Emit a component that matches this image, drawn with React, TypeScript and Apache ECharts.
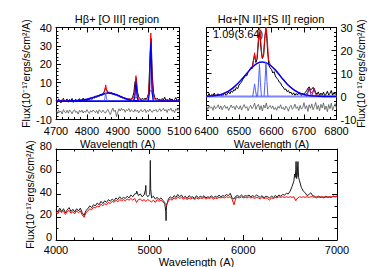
import React, { useEffect, useRef } from "react";
import * as echarts from "echarts";

const FONT = '"Liberation Sans", Arial, Helvetica, sans-serif';

// ---------- Panel 1: Hβ + [O III] ----------
const hbStart = 4700;
const hbStep = 4;
const hbFlux = [
  0.5, -0.8, 1.2, 0.3, -1.0, 0.8, 1.5, -0.4, 0.6, 1.1,
  -0.6, 0.9, 0.2, 1.4, -0.7, 0.4, 1.0, -0.3, 0.7, 1.3,
  -0.5, 0.6, 1.6, 0.1, 0.9, -0.2, 1.2, 0.4, 1.8, 0.9,
  2.2, 1.5, 2.8, 2.0, 3.1, 2.6, 3.8, 3.0, 4.2, 4.8,
  7.0, 6.2, 4.5, 5.0, 4.1, 4.6, 3.7, 4.3, 3.2, 3.9,
  2.7, 3.3, 2.1, 2.6, 1.5, 2.2, 1.0, 1.7, 0.6, 1.4,
  0.8, 1.5, 2.0, 4.5, 10.5, 12.5, 5.0, 2.2, 1.3, 0.8,
  1.6, 0.9, 1.5, 1.1, 2.0, 4.5, 22.0, 34.0, 14.0, 4.5,
  2.0, 0.9, 1.6, 0.5, 1.2, -0.3, 1.4, 0.6, 2.1, 0.2,
  1.0, -0.5, 1.6, 0.4, 1.2, -0.4, 0.8, 1.9, 0.3, 1.0,
  0.5,
];
const hbResid = [
  -5.2, -6.8, -4.9, -6.1, -5.5, -7.0, -4.6, -5.9, -6.4, -5.0,
  -6.6, -4.8, -5.7, -6.9, -5.3, -4.7, -6.2, -5.6, -7.1, -5.0,
  -6.0, -4.9, -6.5, -5.4, -6.1, -4.6, -5.8, -6.7, -5.2, -6.0,
  -4.8, -5.5, -6.3, -5.1, -6.8, -4.7, -5.6, -6.2, -4.9, -5.9,
  -6.6, -5.3, -4.5, -6.1, -7.3, -5.4, -3.8, -5.7, -4.9, -8.4,
  -6.0, -4.2, -5.4, -3.9, -5.0, -4.4, -6.1, -4.6, -5.2, -4.0,
  -5.8, -4.7, -5.3, -6.0, -4.5, -5.6, -4.9, -6.4, -5.1, -4.6,
  -5.9, -5.2, -4.4, -6.2, -5.0, -5.7, -4.3, -5.5, -6.1, -4.8,
  -5.3, -4.5, -6.0, -5.2, -4.1, -5.6, -4.7, -3.9, -5.4, -4.6,
  -6.2, -4.3, -5.0, -3.8, -5.5, -4.9, -6.3, -4.2, -5.1, -3.7,
  -5.6,
];
const hbModel = [
  [4700, 0.2], [4760, 0.2], [4790, 0.6], [4810, 1.3], [4830, 2.4], [4845, 3.4],
  [4855, 4.6], [4858, 6.0], [4861, 8.8], [4864, 6.0], [4867, 4.7], [4880, 4.3],
  [4895, 3.5], [4910, 2.5], [4925, 1.5], [4940, 0.9], [4950, 1.5], [4955, 4.0],
  [4957, 8.5], [4959, 13.8], [4961, 8.5], [4963, 4.0], [4967, 1.2], [4980, 0.6],
  [4993, 0.8], [5000, 3.5], [5003, 12], [5005, 26], [5007, 37], [5009, 26],
  [5011, 12], [5014, 4.5], [5018, 1.5], [5025, 0.5], [5060, 0.2], [5100, 0.2],
];
const hbBase = [[4700, 0], [5100, 0]];
const hbBroad = [
  [4740, 0], [4760, 0.1], [4780, 0.4], [4800, 1.0], [4820, 2.0], [4840, 3.1],
  [4855, 3.9], [4868, 4.4], [4880, 4.2], [4895, 3.4], [4910, 2.4], [4925, 1.4],
  [4940, 0.6], [4960, 0.15], [4980, 0],
];
const hbNarrow = [[4855, 0], [4858, 1.2], [4861, 4.5], [4864, 1.2], [4867, 0]];
const o3aNarrow = [[4951, 0], [4955, 2.0], [4957, 6], [4959, 10.5], [4961, 6], [4963, 2.0], [4967, 0]];
const o3aWing = [[4945, 0], [4952, 0.9], [4959, 2.0], [4966, 0.9], [4973, 0]];
const o3bNarrow = [[4999, 0], [5003, 6], [5005, 21], [5007, 32], [5009, 21], [5011, 6], [5015, 0]];
const o3bWing = [[4993, 0], [4999, 1.6], [5003, 4.5], [5007, 6], [5011, 4.5], [5015, 1.6], [5021, 0]];

// ---------- Panel 2: Hα + [N II] + [S II] ----------
const haStart = 6400;
const haStep = 4;
const haFlux = [
  0.8, 0.2, 1.3, -0.2, 0.9, 0.4, 1.5, -0.1, 0.7, 1.2,
  0.3, 1.0, -0.3, 0.8, 1.4, 0.5, 1.1, 2.0, 1.2, 2.4,
  1.8, 3.0, 2.6, 3.9, 3.4, 5.0, 5.6, 6.4, 7.6, 8.2,
  9.3, 9.0, 10.6, 11.2, 12.5, 12.0, 15.5, 18.0, 14.8, 16.5,
  24.0, 28.0, 20.0, 16.5, 18.0, 26.5, 29.0, 19.5, 13.5, 12.4,
  11.8, 10.2, 10.8, 8.9, 8.0, 7.4, 6.2, 5.9, 4.6, 4.1,
  3.0, 3.3, 2.1, 2.6, 1.5, 1.9, 0.8, 1.6, 0.5, 1.3,
  0.6, 1.7, 0.9, 0.3, 1.4, 0.6, 1.8, 2.5, 3.6, 4.2,
  2.8, 3.2, 4.0, 3.1, 1.7, 1.0, 2.0, 0.4, 1.5, 0.7,
  1.9, 0.2, 1.1, 2.3, 0.6, 1.4, 2.6, 0.5, 1.7, 0.9,
  1.6,
];
const haResid = [
  -4.2, -5.6, -3.9, -5.1, -4.5, -6.0, -4.0, -5.3, -4.7, -3.6,
  -5.4, -4.1, -5.8, -4.6, -3.8, -5.2, -4.4, -6.1, -4.9, -3.7,
  -5.0, -4.3, -5.7, -3.9, -4.8, -5.5, -4.0, -5.9, -4.6, -3.5,
  -5.1, -4.4, -6.2, -4.7, -3.8, -5.3, -4.5, -2.9, -5.6, -4.2,
  -3.4, -5.8, -4.0, -6.3, -3.7, -5.0, -2.8, -5.5, -4.6, -3.9,
  -5.2, -4.1, -5.7, -4.8, -6.0, -4.3, -5.1, -3.6, -5.4, -4.7,
  -5.9, -4.2, -5.0, -6.4, -4.5, -3.8, -5.6, -4.9, -3.3, -5.2,
  -4.4, -6.1, -3.9, -5.5, -4.8, -2.7, -5.3, -4.0, -6.5, -3.6,
  -5.1, -3.2, -5.8, -4.3, -2.6, -5.6, -3.9, -6.2, -3.4, -5.0,
  -2.8, -5.7, -4.1, -6.6, -3.5, -5.3, -2.9, -6.0, -4.4, -3.1,
  -5.2,
];
const haModel = [
  [6400, 0.1], [6440, 0.7], [6470, 2.5], [6500, 6.2], [6520, 9.4], [6535, 11.8],
  [6542, 13.5], [6545, 16], [6548, 19], [6551, 15.5], [6555, 16.5], [6559, 24],
  [6563, 31], [6567, 24], [6571, 17], [6575, 18], [6579, 25], [6583, 31],
  [6587, 25], [6591, 16], [6596, 13.8], [6610, 11.8], [6630, 8.4], [6650, 5.1],
  [6670, 2.8], [6690, 1.3], [6705, 0.8], [6711, 1.8], [6716, 3.8], [6721, 1.8],
  [6724, 1.6], [6727, 2.0], [6731, 3.6], [6736, 1.2], [6745, 0.3], [6800, 0.1],
];
const haBase = [[6400, 0], [6800, 0]];
const haBroad = [
  [6400, 0.1], [6440, 0.7], [6460, 1.7], [6480, 3.5], [6500, 6.2], [6520, 9.4],
  [6540, 12.6], [6556, 14.4], [6572, 15.0], [6590, 14.2], [6610, 11.8], [6630, 8.4],
  [6650, 5.1], [6670, 2.8], [6690, 1.3], [6720, 0.3], [6760, 0.05], [6800, 0],
];
const n2a = [[6542, 0], [6545, 2.5], [6548, 5.5], [6551, 2.5], [6554, 0]];
const haNarrow = [[6557, 0], [6560, 6], [6563, 14], [6566, 6], [6569, 0]];
const n2b = [[6577, 0], [6580, 6.5], [6583, 15], [6586, 6.5], [6589, 0]];
const s2a = [[6708, 0], [6712, 1.5], [6716, 3.6], [6720, 1.5], [6724, 0]];
const s2b = [[6723, 0], [6727, 1.5], [6731, 3.5], [6735, 1.5], [6739, 0]];
const haNote = "1.09(3.64)";

// ---------- Panel 3: full spectrum ----------
const specStart = 4000;
const specStep = 20;
const specFlux = [
  27, 24.5, 28, 25, 27.5, 24, 26.5, 28.5, 25, 27,
  24.5, 27.5, 25.5, 28, 24, 21.5, 26, 27.5, 30, 28.5,
  31, 30, 32.5, 31, 34, 32, 34.5, 33, 35.5, 34,
  36, 34.5, 37, 35.5, 38, 36, 37.5, 36.5, 38.5, 37,
  39.5, 38, 40.5, 41, 39, 40.5, 38, 39.5, 46, 38,
  40, 37, 38.5, 36, 37.5, 35.5, 37, 35, 33, 30,
  36, 38, 36.5, 39, 37.5, 40, 38, 39.5, 37, 38.5,
  36.5, 39, 37.5, 38, 36.5, 39, 37, 38.5, 37.5, 39,
  37, 38, 37.5, 39, 37, 38.5, 37.5, 39.5, 38, 39,
  38.5, 40, 39, 41, 37, 36, 38.5, 39, 38, 39.5,
  38, 39, 38.5, 39.5, 38, 39, 38, 39.5, 38.5, 37.5,
  39, 37, 38.5, 38, 37, 38.5, 37.5, 39, 38, 39.5,
  38.5, 40, 39.5, 41, 40.5, 43, 47, 52, 62, 66,
  52, 46, 43, 41.5, 39, 40, 41.5, 39, 38.5, 37,
  38.5, 37.5, 38, 37, 38.5, 37.5, 38, 37.5, 38.5, 38,
  38.5,
];
const specLines = [
  [4861, 43], [4955, 44], [4959, 48], [4963, 40], [5003, 45], [5007, 70], [5011, 45],
  [5172, 25], [5175, 17], [5178, 26], [6548, 58], [6554, 55], [6563, 69], [6569, 54],
  [6576, 57], [6583, 69], [6590, 55],
];
const specModel = [
  25, 23, 26, 24, 25.5, 22.5, 25, 26, 23.5, 25,
  23, 25.5, 24, 25.5, 22, 20, 24, 25.5, 27.5, 26.5,
  29, 28, 30, 29, 31.5, 30, 32, 31, 33, 32,
  34, 33, 35, 33.5, 35.5, 34.5, 35.5, 34.5, 36, 35,
  36.5, 35, 36.5, 33, 35.5, 36, 34.5, 35.5, 34, 35.5,
  34.5, 33.5, 35, 33, 35.5, 34, 35, 33.5, 32, 31,
  34.5, 36, 35, 37, 36, 38, 36.5, 37.5, 36, 37,
  35.5, 37, 36, 37, 35.5, 37, 36, 37, 36.5, 37.5,
  36, 37, 36.5, 37.5, 36, 37, 36.5, 37.5, 37, 37.5,
  37, 38, 37.5, 38, 36, 31, 37, 37.5, 37, 38,
  37, 37.5, 37, 38, 37, 37.5, 36.5, 37.5, 37, 36,
  37.5, 36.5, 37, 36.5, 35, 37, 36.5, 37.5, 37, 38,
  37.5, 38, 37.5, 38, 37.5, 38, 37.5, 38, 34.5, 37,
  38, 37.5, 38, 37.5, 38, 37.5, 38, 38, 37.5, 38,
  37.5, 38, 37.5, 38, 37.5, 38, 37.5, 38, 38.5, 38,
  38.5,
];

const titleHb = "Hβ+ [O III] region";
const titleHa = "Hα+[N II]+[S II] region";
const xName = "Wavelength (A)";
const yName = "Flux(10⁻¹⁷ergs/s/cm²/A)";

function onGrid(vals: number[], start: number, step: number): number[][] {
  return vals.map((v, i) => [start + i * step, v]);
}
function merged(a: number[][], b: number[][]): number[][] {
  return [...a, ...b].sort((p, q) => p[0] - q[0]);
}

const black = { color: "#000", width: 1 };
const textBase = { color: "#000", fontSize: 11, fontFamily: FONT };
const plain = (v: number) => String(v);

function xAxis(gi: number, min: number, max: number, interval: number, minor: number, main: boolean, margin: number, nameGap: number) {
  return {
    type: "value", gridIndex: gi, min, max, interval,
    position: main ? "bottom" : "top",
    axisLine: { show: true, onZero: false, lineStyle: black },
    axisTick: { show: true, inside: true, length: 5, lineStyle: black },
    minorTick: { show: true, splitNumber: minor, length: 2.5, lineStyle: black },
    splitLine: { show: false },
    minorSplitLine: { show: false },
    axisLabel: { show: main, ...textBase, margin, formatter: plain },
    name: main ? xName : "",
    nameLocation: "middle",
    nameGap,
    nameMoveOverlap: false,
    nameTextStyle: { ...textBase },
  };
}
function yAxis(gi: number, min: number, max: number, interval: number, minor: number, pos: string, main: boolean, nameGap: number, lifted = false) {
  const label: any = { show: main, ...textBase, margin: 4, formatter: plain };
  if (lifted) {
    label.verticalAlign = "bottom";
    label.lineHeight = 6;
  }
  return {
    type: "value", gridIndex: gi, min, max, interval,
    position: pos,
    axisLine: { show: true, onZero: false, lineStyle: black },
    axisTick: { show: true, inside: true, length: 5, lineStyle: black },
    minorTick: { show: true, splitNumber: minor, length: 2.5, lineStyle: black },
    splitLine: { show: false },
    minorSplitLine: { show: false },
    axisLabel: label,
    name: main ? yName : "",
    nameLocation: "middle",
    nameRotate: 90,
    nameGap,
    nameMoveOverlap: false,
    nameTextStyle: { ...textBase, fontSize: 10.5 },
  };
}
function line(data: number[][], xi: number, yi: number, color: string, width: number, z: number, smooth: boolean | number = false) {
  return {
    type: "line", data, xAxisIndex: xi, yAxisIndex: yi,
    showSymbol: false, symbol: "none", smooth,
    lineStyle: { color, width }, itemStyle: { color },
    z, silent: true, clip: true,
  };
}

const BLUE = "#0000ff";
const LBLUE = "#4d5cff";

export default function App() {
  const ref = useRef<HTMLDivElement>(null);
  useEffect(() => {
    if (!ref.current) return;
    const chart = echarts.init(ref.current, null, { renderer: "svg" });
    const option = {
      animation: false,
      backgroundColor: "#fff",
      grid: [
        { left: 56, top: 27.5, width: 123.5, height: 92, outerBoundsMode: "none" },
        { left: 206.5, top: 27.5, width: 130, height: 92, outerBoundsMode: "none" },
        { left: 56, top: 149, width: 281, height: 91, outerBoundsMode: "none" },
      ],
      xAxis: [
        xAxis(0, 4700, 5100, 100, 5, true, 6, 19),
        xAxis(0, 4700, 5100, 100, 5, false, 6, 19),
        xAxis(1, 6400, 6800, 100, 5, true, 6, 19),
        xAxis(1, 6400, 6800, 100, 5, false, 6, 19),
        xAxis(2, 4000, 7000, 1000, 5, true, 4, 16),
        xAxis(2, 4000, 7000, 1000, 5, false, 4, 16),
      ],
      yAxis: [
        yAxis(0, -10, 40, 10, 5, "left", true, 25),
        yAxis(0, -10, 40, 10, 5, "right", false, 20),
        yAxis(1, -10, 30, 10, 5, "right", true, 19),
        yAxis(1, -10, 30, 10, 5, "left", false, 20),
        yAxis(2, 0, 80, 20, 2, "left", true, 20.5, true),
        yAxis(2, 0, 80, 20, 2, "right", false, 20),
      ],
      graphic: [
        { type: "text", x: 117, y: 19, style: { text: titleHb, fontSize: 11, fontFamily: FONT, fill: "#000", align: "center", verticalAlign: "middle" } },
        { type: "text", x: 271, y: 19, style: { text: titleHa, fontSize: 11, fontFamily: FONT, fill: "#000", align: "center", verticalAlign: "middle" } },
        { type: "text", x: 213, y: 33.5, z: 100, style: { text: haNote, fontSize: 11, fontFamily: FONT, fill: "#000", align: "left", verticalAlign: "middle" } },
      ],
      series: [
        // panel 1
        line(onGrid(hbFlux, hbStart, hbStep), 0, 0, "#000", 1, 2),
        line(onGrid(hbResid, hbStart, hbStep), 0, 0, "#555", 0.8, 2),
        line(hbModel, 0, 0, "#ff0000", 1, 3),
        line(hbBase, 0, 0, BLUE, 1.6, 4),
        line(hbBroad, 0, 0, BLUE, 1.6, 4, 0.4),
        line(hbNarrow, 0, 0, LBLUE, 0.9, 4),
        line(o3aWing, 0, 0, LBLUE, 0.9, 4, 0.3),
        line(o3aNarrow, 0, 0, BLUE, 1.2, 4, 0.3),
        line(o3bWing, 0, 0, LBLUE, 0.9, 4, 0.3),
        line(o3bNarrow, 0, 0, BLUE, 1.2, 4, 0.3),
        // panel 2
        line(onGrid(haFlux, haStart, haStep), 2, 2, "#000", 1, 2),
        line(onGrid(haResid, haStart, haStep), 2, 2, "#555", 0.8, 2),
        line(haModel, 2, 2, "#ff0000", 1, 3),
        line(haBase, 2, 2, "#7b86ff", 1.8, 4),
        line(haBroad, 2, 2, BLUE, 1.5, 4, 0.4),
        line(n2a, 2, 2, LBLUE, 1, 4),
        line(haNarrow, 2, 2, LBLUE, 1, 4),
        line(n2b, 2, 2, LBLUE, 1, 4),
        line(s2a, 2, 2, "#6a1fa0", 1, 4),
        line(s2b, 2, 2, "#6a1fa0", 1, 4),
        // panel 3
        line(merged(onGrid(specFlux, specStart, specStep), specLines), 4, 4, "#1a1a1a", 1, 2),
        line(onGrid(specModel, specStart, specStep), 4, 4, "#ff0000", 1, 3),
      ],
    };
    chart.setOption(option as any);
    return () => chart.dispose();
  }, []);
  return (
    <div
      ref={ref}
      style={{ position: "fixed", left: 0, top: 0, width: 374, height: 267, background: "#fff" }}
    />
  );
}
